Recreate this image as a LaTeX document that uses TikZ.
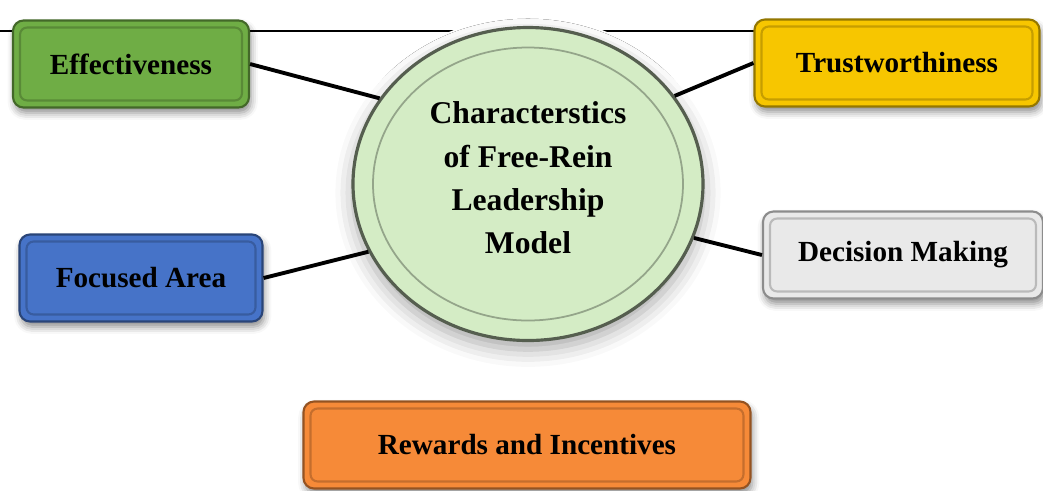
\documentclass[tikz,border=0pt]{standalone}
\usepackage{fontspec}
\setmainfont{Liberation Serif}
\usetikzlibrary{shapes.geometric, shadows.blur}
\definecolor{cgreen}{HTML}{6FAD45}
\definecolor{cyellow}{HTML}{F7C600}
\definecolor{cblue}{HTML}{4673C8}
\definecolor{cgrey}{HTML}{E9E9E9}
\definecolor{corange}{HTML}{F68A38}
\definecolor{chub}{HTML}{D4ECC5}
\tikzset{
  every picture/.style={font=\bfseries\fontsize{16.6}{20}\selectfont, line width=1.7pt},
  box/.style={draw=#1!60!black, fill=#1, line width=1.2pt, rounded corners=6pt, align=center, minimum height=1.74cm,
    blur shadow={shadow xshift=1pt, shadow yshift=-3pt, shadow blur radius=4pt, shadow opacity=45},
    path picture={\draw[#1!80!black, line width=1.2pt, rounded corners=4pt]
      ([shift={(4pt,-4pt)}]path picture bounding box.north west) rectangle
      ([shift={(-4pt,4pt)}]path picture bounding box.south east);}},
  box/.default=cgrey,
  hub/.style={ellipse, draw=chub!40!black, fill=chub, line width=1.8pt, align=center,
    minimum width=7cm, minimum height=6.26cm, text depth=0.25cm,
    font=\bfseries\fontsize{18}{24.6}\selectfont,
    preaction={draw=white, line width=0.45cm},
    blur shadow={shadow xshift=0pt, shadow yshift=-5pt, shadow blur radius=10pt, shadow opacity=35},
    path picture={\draw[chub!70!black, line width=1pt]
      (path picture bounding box.center) ellipse [x radius=3.1cm, y radius=2.73cm];}},
  link/.style={draw=black, line width=2.2pt},
  rule/.style={draw=black, line width=1.1pt},
}

\begin{document}
\begin{tikzpicture}
  \useasboundingbox (0,0) rectangle (20.86,-9.8);
  % thin rule along the top, partly hidden by the boxes and the hub
  \coordinate (ruleW) at (0,-0.62);
  \coordinate (ruleE) at (15.14,-0.62);
  \draw[rule] (ruleW) -- (ruleE);
  \node[hub] (hub) at (10.56,-3.68) {Characterstics\\ of Free-Rein\\ Leadership\\ Model};
  \node[box=cgreen, minimum width=4.72cm] (eff) at (2.62,-1.28) {Effectiveness};
  \node[box=cyellow, minimum width=5.7cm] (trust) at (17.94,-1.26) {Trustworthiness};
  \node[box=cblue, minimum width=4.86cm] (focus) at (2.82,-5.56) {Focused Area};
  \node[box=cgrey, minimum width=5.6cm] (dec) at (18.06,-5.10) {Decision Making};
  \node[box=corange, minimum width=8.94cm] (rew) at (10.54,-8.90) {Rewards and Incentives};
  \draw[link] (eff.east) -- (hub.150);
  \draw[link] (trust.west) -- (hub.31);
  \draw[link] (focus.east) -- (hub.203);
  \draw[link] (dec.west) -- (hub.-18);
\end{tikzpicture}
\end{document}
